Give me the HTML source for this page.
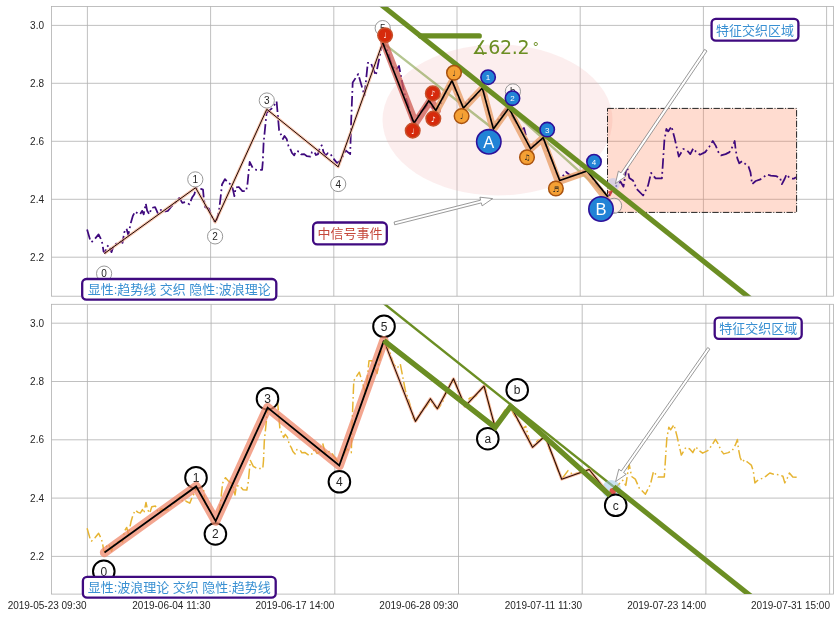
<!DOCTYPE html>
<html lang="zh">
<head>
<meta charset="utf-8">
<title>显性:趋势线 交织 隐性:波浪理论</title>
<style>
html,body{margin:0;padding:0;background:#fff;}
body{width:839px;height:617px;overflow:hidden;}
svg{display:block;}
.tk{font-family:"Liberation Sans",sans-serif;font-size:10px;fill:#262626;}
.bg{font-family:"Liberation Sans",sans-serif;font-size:12px;fill:#262626;}
.cj{font-family:"Liberation Sans","Noto Sans CJK SC",sans-serif;font-size:13px;}
.nt{font-family:"DejaVu Sans",sans-serif;font-size:7.5px;}
.ang{font-family:"DejaVu Sans",sans-serif;fill:#6b8e23;}
</style>
</head>
<body>
<svg width="839" height="617" viewBox="0 0 839 617">
<rect width="839" height="617" fill="#fff"/>
<defs>
<clipPath id="c1"><rect x="51.5" y="6.4" width="782.0" height="289.8"/></clipPath>
<clipPath id="c2"><rect x="51.5" y="304.3" width="782.0" height="289.8"/></clipPath>
</defs>

<g id="top">
<rect x="51.5" y="6.4" width="782.0" height="289.8" fill="#fff"/>
<line x1="87.4" y1="6.4" x2="87.4" y2="296.2" stroke="#b0b0b0" stroke-width="0.8"/>
<line x1="210.6" y1="6.4" x2="210.6" y2="296.2" stroke="#b0b0b0" stroke-width="0.8"/>
<line x1="333.8" y1="6.4" x2="333.8" y2="296.2" stroke="#b0b0b0" stroke-width="0.8"/>
<line x1="457.0" y1="6.4" x2="457.0" y2="296.2" stroke="#b0b0b0" stroke-width="0.8"/>
<line x1="580.2" y1="6.4" x2="580.2" y2="296.2" stroke="#b0b0b0" stroke-width="0.8"/>
<line x1="703.4" y1="6.4" x2="703.4" y2="296.2" stroke="#b0b0b0" stroke-width="0.8"/>
<line x1="826.6" y1="6.4" x2="826.6" y2="296.2" stroke="#b0b0b0" stroke-width="0.8"/>
<line x1="51.5" y1="25.4" x2="833.5" y2="25.4" stroke="#b0b0b0" stroke-width="0.8"/>
<line x1="51.5" y1="83.3" x2="833.5" y2="83.3" stroke="#b0b0b0" stroke-width="0.8"/>
<line x1="51.5" y1="141.3" x2="833.5" y2="141.3" stroke="#b0b0b0" stroke-width="0.8"/>
<line x1="51.5" y1="199.3" x2="833.5" y2="199.3" stroke="#b0b0b0" stroke-width="0.8"/>
<line x1="51.5" y1="257.2" x2="833.5" y2="257.2" stroke="#b0b0b0" stroke-width="0.8"/>
<g clip-path="url(#c1)">
<ellipse cx="497.5" cy="120" rx="115" ry="75.5" fill="#f0b0b0" fill-opacity="0.21"/>
<rect x="607.5" y="108.4" width="189.1" height="104" fill="#ff7f50" fill-opacity="0.27" stroke="#222" stroke-width="1" stroke-dasharray="6.4 1.6 1 1.6"/>
<polyline points="87.1,229.4 90.0,239.4 91.4,242.2 95.0,238.7 98.6,234.4 100.7,238.7 102.2,242.9 103.6,251.5 105.0,253.0 106.5,247.2 108.6,245.1 111.5,252.2 113.6,245.8 117.2,242.9 120.8,241.5 122.5,242.9 124.3,232.2 126.5,228.6 128.3,235.1 130.8,222.9 132.9,215.8 135.1,211.5 137.9,213.6 140.1,214.3 142.2,210.8 143.7,214.3 145.8,203.6 147.2,210.8 149.4,214.3 151.5,207.9 155.1,207.2 158.0,213.6 160.8,210.0 165.1,211.5 168.0,210.8 170.8,207.2 173.7,204.3 176.6,201.5 179.4,197.9 182.3,202.9 185.1,202.2 189.4,204.3 192.3,197.2 194.4,194.3 195.9,188.2 200.8,188.9 203.0,189.6 203.8,198.3 205.2,207.1 208.9,208.6 211.0,214.4 214.0,221.0 216.9,219.5 219.1,210.0 220.5,198.3 222.0,184.5 224.9,179.1 227.8,182.3 230.7,184.5 232.6,188.1 234.4,196.2 235.8,187.4 238.8,187.0 242.4,191.1 246.1,191.3 247.5,183.8 248.7,171.4 249.7,161.9 252.6,167.7 256.3,169.9 262.1,169.9 262.8,161.9 263.6,142.9 266.6,112.7 272.8,107.6 276.6,101.4 279.1,130.2 282.9,139.0 284.5,136.0 286.7,139.0 288.5,146.0 290.4,149.1 292.0,153.0 294.2,155.4 296.0,151.0 299.2,151.6 301.0,154.3 304.2,154.1 307.0,156.2 310.5,156.6 312.0,152.0 314.3,151.6 316.0,155.0 318.1,154.1 320.0,147.0 321.8,145.3 323.5,152.0 325.6,155.4 328.0,153.0 330.6,154.1 333.0,158.0 336.9,162.9 340.7,160.4 345.7,150.3 350.2,154.1 351.2,120.2 352.7,82.5 358.2,74.1 364.5,95.5 367.8,62.8 370.8,62.8 375.8,75.4 381.4,47.7 383.4,44.0 388.0,52.0 392.0,66.0 396.0,70.0 399.0,66.0 404.0,92.0 408.0,104.0 412.0,120.0 415.0,122.0 420.0,112.0 425.0,108.0 429.0,102.0 433.0,108.0 437.0,110.0 441.0,104.0 446.0,90.0 451.0,82.0 454.0,86.0 458.0,98.0 463.0,107.0 468.0,100.0 474.0,98.0 479.0,92.0 483.0,88.0 486.0,100.0 490.0,118.0 494.0,128.0 498.0,120.0 503.0,112.0 508.0,108.0 512.0,116.0 517.0,124.0 521.0,130.0 524.0,128.0 528.0,144.0 531.0,148.0 536.0,142.0 541.0,140.0 544.0,140.0 548.0,152.0 552.0,160.0 556.0,172.0 560.0,180.0 566.0,172.0 571.0,176.0 577.0,174.0 582.0,172.0 587.0,171.0 592.0,178.0 598.0,186.0 603.0,190.0 607.9,196.8 615.5,186.7 620.5,181.7 623.5,186.7 626.8,165.4 629.3,177.9 633.0,180.4 636.8,189.2 643.1,195.5 648.1,185.4 651.1,172.9 655.6,178.4 661.9,178.4 664.4,140.2 666.4,128.9 668.2,131.4 671.5,126.4 674.5,137.7 678.8,156.6 683.3,149.0 687.0,150.3 690.3,154.1 693.3,148.3 695.8,151.5 700.0,154.7 705.2,152.1 709.2,146.9 712.8,141.0 715.7,145.6 718.4,152.1 721.0,155.4 725.6,154.1 729.5,152.1 732.8,146.2 734.7,141.0 735.7,150.2 737.4,158.7 739.3,163.3 742.0,161.3 745.2,163.9 748.5,166.5 750.5,172.4 752.1,184.2 755.7,181.0 759.7,179.7 762.9,177.7 766.9,174.4 770.8,175.7 776.0,176.1 780.0,177.7 781.9,184.2 784.6,179.0 786.5,174.4 789.8,178.3 793.7,178.7 796.0,177.2" fill="none" stroke="#3f0a7d" stroke-width="1.75" stroke-dasharray="10.5 3.2 1.8 3.2" stroke-linejoin="round"/>
<polyline points="382.7,42.7 493.4,129.0 508.9,108.0 607.8,196.8" fill="none" stroke="#6b8e23" stroke-opacity="0.5" stroke-width="2.3"/>
<polyline points="104.4,253.5 195.6,187.7 215.2,222.2 266.8,109.3 338.2,166.9 382.7,42.7" fill="none" stroke="#f7b092" stroke-opacity="0.7" stroke-width="3" stroke-linejoin="round"/>
<polyline points="104.4,253.5 195.6,187.7 215.2,222.2 266.8,109.3 338.2,166.9 382.7,42.7" fill="none" stroke="#1c0803" stroke-width="1" stroke-linejoin="round"/>
<polyline points="384.0,42.7 415.3,123.1 430.3,100.5 437.1,110.5" fill="none" stroke="#cf5a50" stroke-opacity="0.75" stroke-width="7.6" stroke-linejoin="round" stroke-linecap="round"/>
<polyline points="436.6,110.5 452.5,80.7 463.7,108.3 482.3,88.4 493.2,129.6 508.4,108.7 529.8,149.6 542.2,138.6 558.4,181.6 585.6,172.2 606.0,198.2" fill="none" stroke="#e8a06a" stroke-opacity="0.8" stroke-width="7.2" stroke-linejoin="round" stroke-linecap="round"/>
<polyline points="382.7,42.7 414.0,123.1 429.0,100.5 435.8,110.5 452.0,80.6 463.4,108.0 482.3,88.0 493.4,129.0 508.9,108.0 530.6,148.8 543.2,137.6 559.7,180.5 587.1,170.9 607.8,196.8" fill="none" stroke="#000" stroke-width="1.6" stroke-linejoin="miter"/>
<circle cx="613.2" cy="184.5" r="6.5" fill="#b9c6ee" fill-opacity="0.55"/>
<line x1="375" y1="-0.2" x2="760" y2="306.2" stroke="#6b8e23" stroke-width="5.1"/>
<line x1="420.5" y1="35.9" x2="479.3" y2="35.9" stroke="#6b8e23" stroke-width="5.2" stroke-linecap="round"/>
</g>
<rect x="51.5" y="6.4" width="782.0" height="289.8" fill="none" stroke="#b0b0b0" stroke-width="0.8"/>
<path d="M607.6 191.5 L612.8 190.2 L610.6 196.6 Z" fill="#e0453a" fill-opacity="0.85"/>
<circle cx="104.1" cy="273.6" r="7.6" fill="#fff" fill-opacity="1" stroke="#8c8c8c" stroke-width="0.9"/><text x="104.1" y="277.2" text-anchor="middle" class="tk">0</text>
<circle cx="195.3" cy="179.4" r="7.6" fill="#fff" fill-opacity="1" stroke="#8c8c8c" stroke-width="0.9"/><text x="195.3" y="183.0" text-anchor="middle" class="tk">1</text>
<circle cx="215.1" cy="236.4" r="7.6" fill="#fff" fill-opacity="1" stroke="#8c8c8c" stroke-width="0.9"/><text x="215.1" y="240.0" text-anchor="middle" class="tk">2</text>
<circle cx="266.8" cy="100.5" r="7.6" fill="#fff" fill-opacity="1" stroke="#8c8c8c" stroke-width="0.9"/><text x="266.8" y="104.1" text-anchor="middle" class="tk">3</text>
<circle cx="338.2" cy="184.0" r="7.6" fill="#fff" fill-opacity="1" stroke="#8c8c8c" stroke-width="0.9"/><text x="338.2" y="187.6" text-anchor="middle" class="tk">4</text>
<circle cx="382.7" cy="28.1" r="7.6" fill="#fff" fill-opacity="1" stroke="#8c8c8c" stroke-width="0.9"/><text x="382.7" y="31.7" text-anchor="middle" class="tk">5</text>
<circle cx="512.9" cy="91.4" r="7.6" fill="#fff" fill-opacity="0.45" stroke="#8c8c8c" stroke-width="0.9"/><text x="512.9" y="95.0" text-anchor="middle" class="tk">b</text>
<circle cx="614.1" cy="205.8" r="7.6" fill="#fff" fill-opacity="0.45" stroke="#8c8c8c" stroke-width="0.9"/>
<circle cx="385.1" cy="35.2" r="7.3" fill="#d62a0c" stroke="#c7502a" stroke-width="1.5"/><text x="385.1" y="38.2" text-anchor="middle" class="nt" fill="#fff">♩</text>
<circle cx="412.7" cy="130.6" r="7.3" fill="#d62a0c" stroke="#c7502a" stroke-width="1.5"/><text x="412.7" y="133.6" text-anchor="middle" class="nt" fill="#fff">♩</text>
<circle cx="432.8" cy="93.4" r="7.3" fill="#d62a0c" stroke="#c7502a" stroke-width="1.5"/><text x="432.8" y="96.4" text-anchor="middle" class="nt" fill="#fff">♪</text>
<circle cx="433.3" cy="118.6" r="7.3" fill="#d62a0c" stroke="#c7502a" stroke-width="1.5"/><text x="433.3" y="121.6" text-anchor="middle" class="nt" fill="#fff">♪</text>
<circle cx="454.0" cy="72.8" r="7.3" fill="#f5a034" stroke="#a8520f" stroke-width="1.5"/><text x="454.0" y="75.8" text-anchor="middle" class="nt" fill="#222">♩</text>
<circle cx="461.6" cy="116.1" r="7.3" fill="#f5a034" stroke="#a8520f" stroke-width="1.5"/><text x="461.6" y="119.1" text-anchor="middle" class="nt" fill="#222">♩</text>
<circle cx="527.0" cy="157.3" r="7.3" fill="#f5a034" stroke="#a8520f" stroke-width="1.5"/><text x="527.0" y="160.3" text-anchor="middle" class="nt" fill="#222">♫</text>
<circle cx="555.9" cy="188.5" r="7.3" fill="#f5a034" stroke="#a8520f" stroke-width="1.5"/><text x="555.9" y="191.5" text-anchor="middle" class="nt" fill="#222">♬</text>
<circle cx="488.1" cy="77.2" r="7.2" fill="#2183d6" stroke="#2d109a" stroke-width="1.6"/><text x="488.1" y="80.1" text-anchor="middle" font-family="Liberation Sans, sans-serif" font-size="8" fill="#fff">1</text>
<circle cx="512.5" cy="98.2" r="7.2" fill="#2183d6" stroke="#2d109a" stroke-width="1.6"/><text x="512.5" y="101.1" text-anchor="middle" font-family="Liberation Sans, sans-serif" font-size="8" fill="#fff">2</text>
<circle cx="547.2" cy="129.6" r="7.2" fill="#2183d6" stroke="#2d109a" stroke-width="1.6"/><text x="547.2" y="132.5" text-anchor="middle" font-family="Liberation Sans, sans-serif" font-size="8" fill="#fff">3</text>
<circle cx="594.0" cy="161.7" r="7.2" fill="#2183d6" stroke="#2d109a" stroke-width="1.6"/><text x="594.0" y="164.6" text-anchor="middle" font-family="Liberation Sans, sans-serif" font-size="8" fill="#fff">4</text>
<circle cx="488.8" cy="141.8" r="12.2" fill="#2183d6" stroke="#2d109a" stroke-width="1.6"/><text x="488.8" y="147.7" text-anchor="middle" font-family="Liberation Sans, sans-serif" font-size="16.5" fill="#fff">A</text>
<circle cx="601.0" cy="209.0" r="12.2" fill="#2183d6" stroke="#2d109a" stroke-width="1.6"/><text x="601.0" y="214.9" text-anchor="middle" font-family="Liberation Sans, sans-serif" font-size="16.5" fill="#fff">B</text>
<text x="471.7" y="54" class="ang" font-size="19" textLength="57.8" lengthAdjust="spacing">∡62.2</text>
<text x="532.6" y="50.5" class="ang" font-size="13">°</text>
<polygon points="394.7,224.8 481.3,202.9 482.1,205.9 492.6,198.6 479.9,197.2 480.6,200.2 394.1,222.0" fill="#fff" stroke="#808080" stroke-width="0.8" stroke-linejoin="miter"/>
<polygon points="704.6,49.4 621.0,172.9 618.4,171.1 615.4,183.6 625.9,176.2 623.3,174.5 707.0,51.0" fill="#fff" stroke="#808080" stroke-width="0.8" stroke-linejoin="miter"/>
<rect x="313.1" y="222.5" width="73.7" height="21.9" rx="4.2" ry="4.2" fill="#fff" stroke="#3f0a80" stroke-width="2.3"/><text x="350.0" y="238.1" text-anchor="middle" class="cj" fill="#c5483b">中信号事件</text>
<rect x="711.6" y="18.9" width="86.8" height="21.7" rx="4.2" ry="4.2" fill="#fff" stroke="#3f0a80" stroke-width="2.3"/><text x="755.0" y="34.5" text-anchor="middle" class="cj" fill="#3990d2">特征交织区域</text>
<rect x="82.2" y="279.0" width="194.1" height="20.7" rx="4.2" ry="4.2" fill="#fff" stroke="#3f0a80" stroke-width="2.3"/><text x="179.2" y="294.1" text-anchor="middle" class="cj" fill="#3990d2" textLength="183" lengthAdjust="spacing">显性:趋势线 交织 隐性:波浪理论</text>
<text x="44.0" y="29.0" text-anchor="end" class="tk">3.0</text>
<text x="44.0" y="86.9" text-anchor="end" class="tk">2.8</text>
<text x="44.0" y="144.9" text-anchor="end" class="tk">2.6</text>
<text x="44.0" y="202.9" text-anchor="end" class="tk">2.4</text>
<text x="44.0" y="260.8" text-anchor="end" class="tk">2.2</text>
</g>
<g id="bottom">
<rect x="51.5" y="304.3" width="782.0" height="289.8" fill="#fff"/>
<line x1="87.4" y1="304.3" x2="87.4" y2="594.1" stroke="#b0b0b0" stroke-width="0.8"/>
<line x1="211.1" y1="304.3" x2="211.1" y2="594.1" stroke="#b0b0b0" stroke-width="0.8"/>
<line x1="334.8" y1="304.3" x2="334.8" y2="594.1" stroke="#b0b0b0" stroke-width="0.8"/>
<line x1="458.5" y1="304.3" x2="458.5" y2="594.1" stroke="#b0b0b0" stroke-width="0.8"/>
<line x1="582.2" y1="304.3" x2="582.2" y2="594.1" stroke="#b0b0b0" stroke-width="0.8"/>
<line x1="705.9" y1="304.3" x2="705.9" y2="594.1" stroke="#b0b0b0" stroke-width="0.8"/>
<line x1="829.6" y1="304.3" x2="829.6" y2="594.1" stroke="#b0b0b0" stroke-width="0.8"/>
<line x1="51.5" y1="323.2" x2="833.5" y2="323.2" stroke="#b0b0b0" stroke-width="0.8"/>
<line x1="51.5" y1="381.5" x2="833.5" y2="381.5" stroke="#b0b0b0" stroke-width="0.8"/>
<line x1="51.5" y1="439.8" x2="833.5" y2="439.8" stroke="#b0b0b0" stroke-width="0.8"/>
<line x1="51.5" y1="498.1" x2="833.5" y2="498.1" stroke="#b0b0b0" stroke-width="0.8"/>
<line x1="51.5" y1="556.4" x2="833.5" y2="556.4" stroke="#b0b0b0" stroke-width="0.8"/>
<g clip-path="url(#c2)">
<polyline points="87.1,528.3 90.0,538.4 91.4,541.2 95.0,537.7 98.6,533.3 100.8,537.7 102.3,541.9 103.7,550.5 105.1,552.1 106.6,546.2 108.7,544.1 111.6,551.2 113.7,544.8 117.3,541.9 120.9,540.5 122.6,541.9 124.5,531.1 126.7,527.5 128.5,534.1 131.0,521.8 133.1,514.6 135.3,510.3 138.1,512.4 140.3,513.1 142.4,509.6 143.9,513.1 146.0,502.4 147.5,509.6 149.7,513.1 151.8,506.7 155.4,506.0 158.3,512.4 161.1,508.8 165.4,510.3 168.3,509.6 171.2,506.0 174.1,503.1 177.0,500.3 179.8,496.6 182.7,501.7 185.5,501.0 189.8,503.1 192.7,495.9 194.8,493.0 196.4,486.9 201.3,487.6 203.5,488.3 204.3,497.1 205.7,505.9 209.4,507.4 211.5,513.2 214.5,519.9 217.4,518.4 219.7,508.8 221.1,497.1 222.6,483.2 225.5,477.7 228.4,481.0 231.3,483.2 233.2,486.8 235.0,494.9 236.4,486.1 239.4,485.7 243.1,489.8 246.8,490.0 248.2,482.5 249.4,470.0 250.4,460.5 253.3,466.3 257.0,468.5 262.8,468.5 263.5,460.5 264.3,441.3 267.4,411.0 273.6,405.9 277.4,399.6 279.9,428.6 283.7,437.4 285.3,434.4 287.5,437.4 289.3,444.5 291.3,447.6 292.9,451.5 295.1,453.9 296.9,449.5 300.1,450.1 301.9,452.8 305.1,452.6 307.9,454.7 311.4,455.1 312.9,450.5 315.3,450.1 317.0,453.5 319.1,452.6 321.0,445.5 322.8,443.8 324.5,450.5 326.6,453.9 329.0,451.5 331.6,452.6 334.0,456.5 337.9,461.5 341.8,458.9 346.8,448.8 351.3,452.6 352.3,418.5 353.8,380.6 359.3,372.2 365.7,393.7 369.0,360.8 372.0,360.8 377.0,373.5 382.6,345.6 384.6,341.9 389.3,349.9 393.3,364.0 397.3,368.0 400.3,364.0 405.3,390.2 409.3,402.2 413.4,418.3 416.4,420.3 421.4,410.3 426.4,406.3 430.4,400.2 434.5,406.3 438.5,408.3 442.5,402.2 447.5,388.2 452.5,380.1 455.5,384.1 459.6,396.2 464.6,405.2 469.6,398.2 475.6,396.2 480.6,390.2 484.7,386.1 487.7,398.2 491.7,416.3 495.7,426.4 499.7,418.3 504.7,410.3 509.8,406.3 513.8,414.3 518.8,422.3 522.8,428.4 525.8,426.4 529.9,442.5 532.9,446.5 537.9,440.4 542.9,438.4 545.9,438.4 549.9,450.5 554.0,458.5 558.0,470.6 562.0,478.7 568.0,470.6 573.0,474.6 579.1,472.6 584.1,470.6 589.1,469.6 594.1,476.6 600.1,484.7 605.2,488.7 610.1,495.5 617.7,485.4 622.7,480.4 625.8,485.4 629.1,464.0 631.6,476.5 635.3,479.1 639.1,487.9 645.4,494.2 650.5,484.1 653.5,471.5 658.0,477.0 664.3,477.0 666.8,438.6 668.8,427.3 670.6,429.8 674.0,424.8 677.0,436.1 681.3,455.1 685.8,447.5 689.5,448.8 692.8,452.6 695.8,446.8 698.4,450.0 702.6,453.2 707.8,450.6 711.8,445.4 715.4,439.4 718.3,444.1 721.1,450.6 723.7,453.9 728.3,452.6 732.2,450.6 735.5,444.7 737.4,439.4 738.4,448.7 740.1,457.2 742.0,461.9 744.7,459.8 748.0,462.5 751.3,465.1 753.3,471.0 754.9,482.9 758.5,479.7 762.5,478.3 765.7,476.3 769.8,473.0 773.7,474.3 778.9,474.7 782.9,476.3 784.8,482.9 787.5,477.6 789.4,473.0 792.8,476.9 796.7,477.3 799.0,475.8" fill="none" stroke="#e6b432" stroke-width="1.5" stroke-dasharray="10.5 3 1.6 3" stroke-linejoin="round"/>
<line x1="376.2" y1="297.4" x2="762.8" y2="605.6" stroke="#6b8e23" stroke-width="2.4"/>
<circle cx="611.4" cy="489.4" r="9.5" fill="#9fcbe6" fill-opacity="0.55"/>
<circle cx="612.7" cy="491.2" r="3.2" fill="#e0453a" fill-opacity="0.9"/>
<polyline points="383.9,340.6 415.4,421.4 430.4,398.7 437.3,408.8 453.5,378.7 465.0,406.3 484.0,386.1 495.1,427.4 510.7,406.3 532.5,447.3 545.1,436.0 561.7,479.2 589.2,469.5 610.0,495.5" fill="none" stroke="#f4a582" stroke-opacity="0.75" stroke-width="3" stroke-linejoin="round"/>
<polyline points="383.9,340.6 415.4,421.4 430.4,398.7 437.3,408.8 453.5,378.7 465.0,406.3 484.0,386.1 495.1,427.4 510.7,406.3 532.5,447.3 545.1,436.0 561.7,479.2 589.2,469.5 610.0,495.5" fill="none" stroke="#2a0c04" stroke-width="1.1" stroke-linejoin="round"/>
</g>
<rect x="51.5" y="304.3" width="782.0" height="289.8" fill="none" stroke="#b0b0b0" stroke-width="0.8"/>
<circle cx="103.8" cy="571.3" r="10.8" fill="#fff" stroke="#000" stroke-width="2"/><text x="103.8" y="575.5" text-anchor="middle" class="bg">0</text>
<circle cx="196.0" cy="477.7" r="10.8" fill="#fff" stroke="#000" stroke-width="2"/><text x="196.0" y="481.9" text-anchor="middle" class="bg">1</text>
<circle cx="215.4" cy="534.0" r="10.8" fill="#fff" stroke="#000" stroke-width="2"/><text x="215.4" y="538.2" text-anchor="middle" class="bg">2</text>
<circle cx="267.5" cy="398.7" r="10.8" fill="#fff" stroke="#000" stroke-width="2"/><text x="267.5" y="402.9" text-anchor="middle" class="bg">3</text>
<circle cx="339.4" cy="481.8" r="10.8" fill="#fff" stroke="#000" stroke-width="2"/><text x="339.4" y="486.0" text-anchor="middle" class="bg">4</text>
<circle cx="384.0" cy="326.4" r="10.8" fill="#fff" stroke="#000" stroke-width="2"/><text x="384.0" y="330.6" text-anchor="middle" class="bg">5</text>
<circle cx="487.8" cy="438.7" r="10.8" fill="#fff" stroke="#000" stroke-width="2"/><text x="487.8" y="442.9" text-anchor="middle" class="bg">a</text>
<circle cx="517.2" cy="389.9" r="10.8" fill="#fff" stroke="#000" stroke-width="2"/><text x="517.2" y="394.1" text-anchor="middle" class="bg">b</text>
<circle cx="615.7" cy="505.3" r="10.8" fill="#fff" stroke="#000" stroke-width="2"/><text x="615.7" y="509.5" text-anchor="middle" class="bg">c</text>
<g clip-path="url(#c2)">
<polyline points="104.5,552.6 196.1,486.4 215.7,521.1 267.6,407.6 339.3,465.5 383.9,340.6" fill="none" stroke="#ef8465" stroke-opacity="0.72" stroke-width="9.3" stroke-linejoin="round" stroke-linecap="round"/>
<polyline points="104.5,552.6 196.1,486.4 215.7,521.1 267.6,407.6 339.3,465.5 383.9,340.6" fill="none" stroke="#000" stroke-width="1.8" stroke-linejoin="miter"/>
<polyline points="383.9,340.6 495.1,427.4 510.7,406.3 610.0,495.5" fill="none" stroke="#6b8e23" stroke-width="5.3" stroke-linejoin="miter"/>
<line x1="613.7" y1="486.7" x2="762.8" y2="605.6" stroke="#6b8e23" stroke-width="5.1"/>
</g>
<polygon points="707.7,347.5 621.3,471.0 618.8,469.2 615.6,481.6 626.2,474.3 623.6,472.6 709.9,349.1" fill="#fff" stroke="#808080" stroke-width="0.8" stroke-linejoin="miter"/>
<rect x="714.7" y="317.6" width="87.0" height="21.3" rx="4.2" ry="4.2" fill="#fff" stroke="#3f0a80" stroke-width="2.3"/><text x="758.2" y="332.9" text-anchor="middle" class="cj" fill="#3990d2">特征交织区域</text>
<rect x="82.9" y="576.9" width="192.8" height="20.8" rx="4.2" ry="4.2" fill="#fff" stroke="#3f0a80" stroke-width="2.3"/><text x="179.3" y="592.0" text-anchor="middle" class="cj" fill="#3990d2" textLength="183" lengthAdjust="spacing">显性:波浪理论 交织 隐性:趋势线</text>
<text x="44.0" y="326.8" text-anchor="end" class="tk">3.0</text>
<text x="44.0" y="385.1" text-anchor="end" class="tk">2.8</text>
<text x="44.0" y="443.4" text-anchor="end" class="tk">2.6</text>
<text x="44.0" y="501.7" text-anchor="end" class="tk">2.4</text>
<text x="44.0" y="560.0" text-anchor="end" class="tk">2.2</text>
<text x="86.6" y="609.2" text-anchor="end" class="tk">2019-05-23 09:30</text>
<text x="210.5" y="609.2" text-anchor="end" class="tk">2019-06-04 11:30</text>
<text x="334.4" y="609.2" text-anchor="end" class="tk">2019-06-17 14:00</text>
<text x="458.3" y="609.2" text-anchor="end" class="tk">2019-06-28 09:30</text>
<text x="582.2" y="609.2" text-anchor="end" class="tk">2019-07-11 11:30</text>
<text x="706.1" y="609.2" text-anchor="end" class="tk">2019-07-23 14:00</text>
<text x="830.0" y="609.2" text-anchor="end" class="tk">2019-07-31 15:00</text>
</g>
</svg>
</body>
</html>
